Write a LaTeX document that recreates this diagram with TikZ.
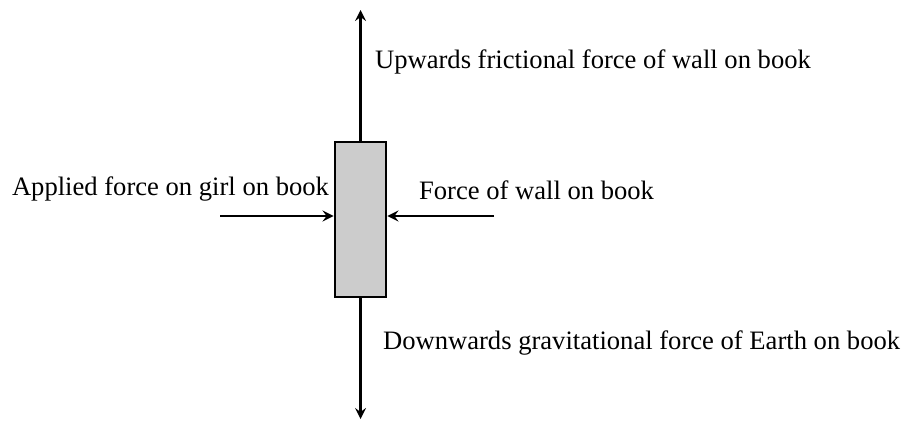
\documentclass[tikz,border=0pt]{standalone}
\usepackage{fontspec}
\setmainfont{Liberation Serif}
\begin{document}
\begin{tikzpicture}[x=0.5pt,y=-0.5pt,font=\fontsize{13.3}{16}\selectfont,force/.style={line width=1.4pt,-stealth},book/.style={draw,line width=1.4pt,fill=gray!40,minimum width=25.5pt,minimum height=77.5pt,inner sep=0}]
\useasboundingbox(0,0)rectangle(904,423);
\node[book](b)at(360.5,219.5){};
\coordinate(top)at(360.5,10);\coordinate(bot)at(360.5,419);
\coordinate(lft)at(220,216);\coordinate(rgt)at(494,216);
\draw[force](b.north)--(top);\draw[force](b.south)--(bot);
\draw[force](lft)--(b.west|-lft);\draw[force](rgt)--(b.east|-rgt);
\node[anchor=west](up)at(368,62){Upwards frictional force of wall on book};
\node[anchor=east](ap)at(336,189){Applied force on girl on book};
\node[anchor=west](fw)at(412,190){Force of wall on book};
\node[anchor=west](dn)at(376,343){Downwards gravitational force of Earth on book};
\end{tikzpicture}
\end{document}
